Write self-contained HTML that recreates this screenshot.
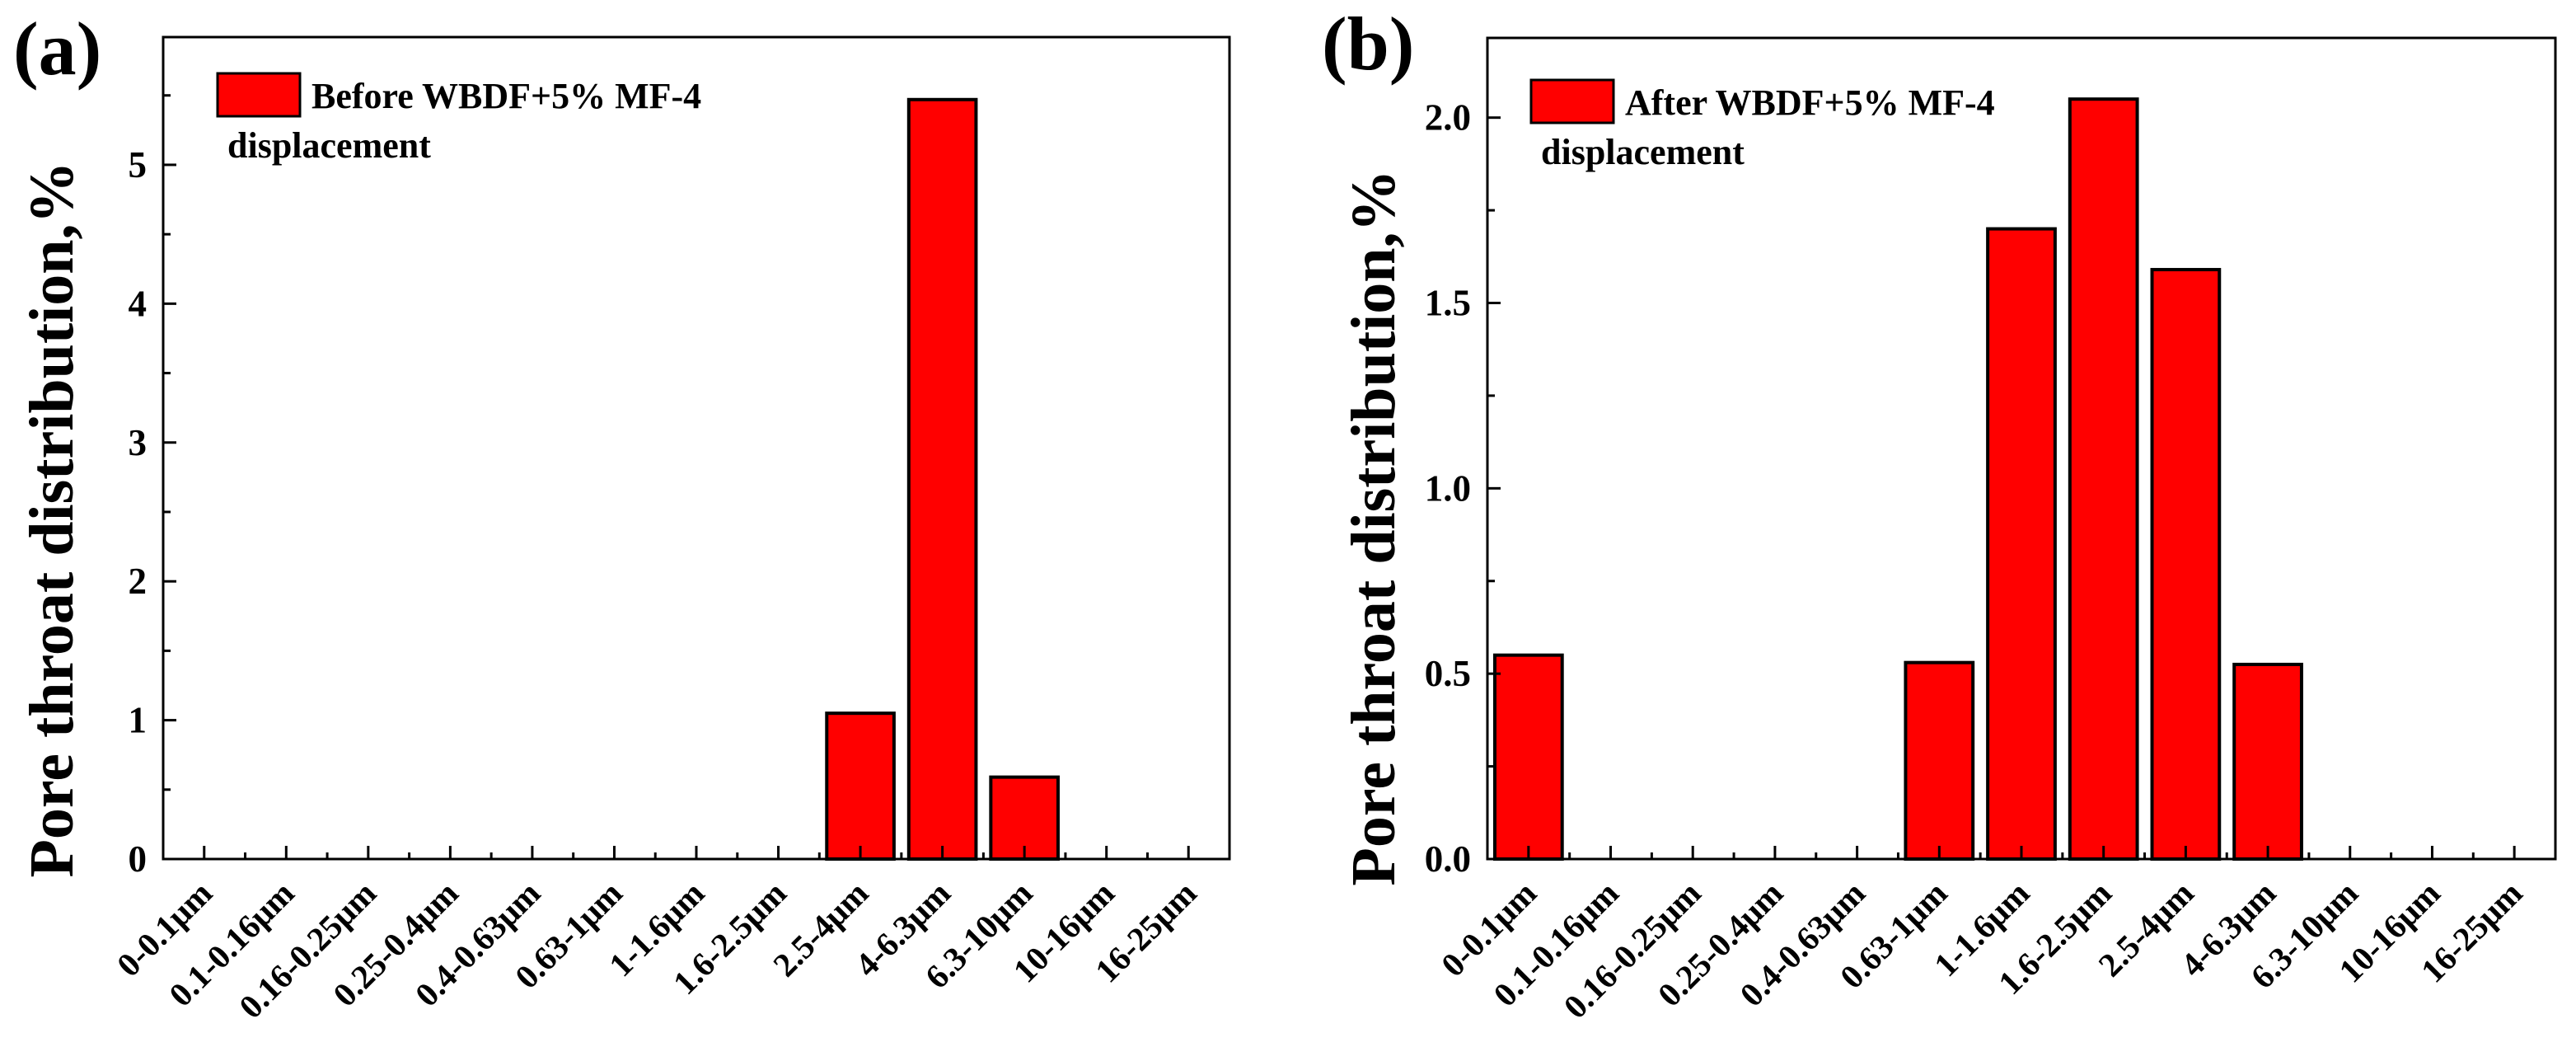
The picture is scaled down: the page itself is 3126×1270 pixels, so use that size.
<!DOCTYPE html>
<html><head><meta charset="utf-8"><style>
html,body{margin:0;padding:0;background:#fff;}
svg{display:block;font-family:"Liberation Serif",serif;font-weight:bold;}
</style></head><body>
<svg id="chart" width="3126" height="1270" viewBox="0 0 3126 1270" xmlns="http://www.w3.org/2000/svg"></svg>
<script>
const categoriesA = ["0-0.1μm","0.1-0.16μm","0.16-0.25μm","0.25-0.4μm","0.4-0.63μm","0.63-1μm","1-1.6μm","1.6-2.5μm","2.5-4μm","4-6.3μm","6.3-10μm","10-16μm","16-25μm"];
const valuesA = [0,0,0,0,0,0,0,0,1.05,5.47,0.59,0,0];
const yTicksA = [0,1,2,3,4,5];
const yTickLabelsA = ["0","1","2","3","4","5"];
const categoriesB = ["0-0.1μm","0.1-0.16μm","0.16-0.25μm","0.25-0.4μm","0.4-0.63μm","0.63-1μm","1-1.6μm","1.6-2.5μm","2.5-4μm","4-6.3μm","6.3-10μm","10-16μm","16-25μm"];
const valuesB = [0.55,0,0,0,0,0.53,1.70,2.05,1.59,0.525,0,0,0];
const yTicksB = [0,0.5,1.0,1.5,2.0];
const yTickLabelsB = ["0.0","0.5","1.0","1.5","2.0"];

const NS="http://www.w3.org/2000/svg";
const svg=document.getElementById('chart');
function mk(tag,attrs,parent){const e=document.createElementNS(NS,tag);for(const k in attrs)e.setAttribute(k,attrs[k]);(parent||svg).appendChild(e);return e;}

function panel(o){
  const g=mk('g',{});
  
  
  const xS=i=>o.left+(i+0.5)/o.cats.length*(o.right-o.left);
  const yS=v=>o.bottom-v/o.ymax*(o.bottom-o.top);
  const bw=0.82*(o.right-o.left)/o.cats.length;
  o.vals.forEach((v,i)=>{
    if(v<=0)return;
    const r=mk('rect',{x:xS(i)-bw/2,y:yS(v),width:bw,height:yS(0)-yS(v),fill:'#ff0000',stroke:'#000','stroke-width':4},g);
    
    
  });
  const f=mk('rect',{x:o.left,y:o.top,width:o.right-o.left,height:o.bottom-o.top,fill:'none',stroke:'#000','stroke-width':3},g);
  
  
  o.yt.forEach((v,k)=>{
    const y=yS(v);
    mk('line',{x1:o.left,x2:o.left+16,y1:y,y2:y,stroke:'#000','stroke-width':3},g);
    const t=mk('text',{x:o.left-20,y:y+15,'text-anchor':'end','font-size':45},g);
    t.textContent=o.ytl[k];
    
    
    const mv=v+o.minor;
    if(mv<o.ymax){const my=yS(mv);mk('line',{x1:o.left,x2:o.left+9,y1:my,y2:my,stroke:'#000','stroke-width':3},g);}
  });
  o.cats.forEach((c,i)=>{
    const x=xS(i);
    mk('line',{x1:x,x2:x,y1:o.bottom,y2:o.bottom-16,stroke:'#000','stroke-width':3},g);
    if(i>0){const mx=(xS(i)+xS(i-1))/2;mk('line',{x1:mx,x2:mx,y1:o.bottom,y2:o.bottom-8,stroke:'#000','stroke-width':3},g);}
    const t=mk('text',{x:x+12,y:o.bottom+44,'text-anchor':'end','font-size':41,transform:`rotate(-45 ${x+12} ${o.bottom+44})`},g);
    t.textContent=c;
    
    
  });
  const yt=mk('text',{x:o.ytx,y:o.yty,'text-anchor':'middle','font-size':76,transform:`rotate(-90 ${o.ytx} ${o.yty})`},g);
  yt.textContent='Pore throat distribution,%';
  
  
  const pl=mk('text',{x:o.plx,y:o.ply,'font-size':92},g);
  pl.textContent=o.plabel;
  
  
  const lg=mk('g',{},g);
  
  
  mk('rect',{x:o.lx,y:o.ly,width:100,height:52,fill:'#ff0000',stroke:'#000','stroke-width':3},lg);
  const l1=mk('text',{x:o.lx+114,y:o.ly+42,'font-size':44},lg);
  l1.textContent=o.legend;
  const l2=mk('text',{x:o.lx+12,y:o.ly+102,'font-size':44},lg);
  l2.textContent='displacement';
}

panel({name:'panel-a',cats:categoriesA,vals:valuesA,yt:yTicksA,ytl:yTickLabelsA,ymax:5.92,minor:0.5,
  left:198,right:1492,top:45,bottom:1042,ytx:88,yty:630,plx:16,ply:90,plabel:'(a)',
  lx:264,ly:89,legend:'Before WBDF+5% MF-4'});
panel({name:'panel-b',cats:categoriesB,vals:valuesB,yt:yTicksB,ytl:yTickLabelsB,ymax:2.215,minor:0.25,
  left:1805,right:3101,top:46,bottom:1042,ytx:1692,yty:640,plx:1604,ply:84,plabel:'(b)',
  lx:1858,ly:97,legend:'After WBDF+5% MF-4'});
</script>
</body></html>
